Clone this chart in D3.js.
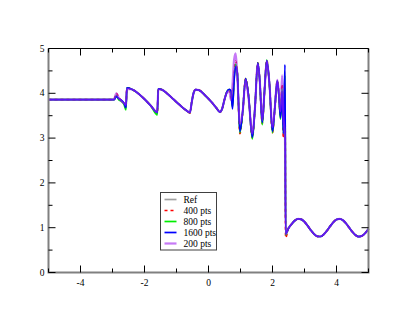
<!DOCTYPE html>
<html>
<head>
<meta charset="utf-8">
<script src="https://cdn.jsdelivr.net/npm/d3@7"></script>
<style>
	body { margin: 0; background: white; }
	text { font-family: "Liberation Serif", "DejaVu Serif", serif; }
</style>
</head>
<body>
<script>
// shared x grid for all series
var xs = [-5, -3.0, -2.95, -2.88, -2.8, -2.72, -2.64, -2.58, -2.55, -2.4, -2.2, -2.0, -1.8, -1.6,
	-1.57, -1.45, -1.3, -1.1, -0.9, -0.7, -0.58, -0.52, -0.46, -0.4, -0.3, -0.1, 0.1, 0.25, 0.36,
	0.42, 0.5, 0.58, 0.65, 0.7, 0.75, 0.8, 0.85, 0.9, 0.98, 1.07, 1.16, 1.25, 1.37,
	1.45, 1.54, 1.6, 1.68, 1.75, 1.82, 1.9, 2.0, 2.07, 2.15, 2.2, 2.25,
	2.3, 2.34, 2.39, 2.41,
	2.5, 2.6, 2.7, 2.8, 2.9, 3.0, 3.1, 3.2, 3.3, 3.4, 3.5, 3.6, 3.7, 3.8, 3.9,
	4.0, 4.1, 4.2, 4.3, 4.4, 4.5, 4.6, 4.7, 4.8, 4.9, 5.0]

// tail right of the shock (same for every series)
var tail = [0.987, 1.084, 1.161, 1.198, 1.187, 1.130, 1.041, 0.942, 0.858, 0.808, 0.804, 0.850, 0.932, 1.030, 1.121,
	1.183, 1.199, 1.167, 1.094, 0.998, 0.903, 0.831, 0.800, 0.819, 0.882, 0.974]

var yRef = [3.857, 3.857, 3.86, 3.92, 3.88, 3.84, 3.78, 3.72, 4.12, 4.09, 4.0, 3.87, 3.72, 3.57,
	4.1, 4.08, 4.0, 3.87, 3.74, 3.62, 3.57, 3.82, 4.02, 4.08, 4.07, 3.95, 3.8, 3.67, 3.58,
	3.64, 3.86, 4.04, 4.08, 4.05, 3.7, 4.3, 4.6, 4.45, 3.15, 3.6, 4.33, 3.95, 3.03,
	3.65, 4.68, 4.3, 3.35, 4.05, 4.73, 4.25, 3.15, 3.65, 4.28, 3.95, 3.45,
	4.1, 3.2, 4.5, 0.86].concat(tail)

var y400 = [3.857, 3.857, 3.87, 4.0, 3.9, 3.83, 3.77, 3.7, 4.12, 4.09, 4.0, 3.87, 3.72, 3.56,
	4.1, 4.08, 4.0, 3.87, 3.74, 3.62, 3.56, 3.82, 4.02, 4.08, 4.07, 3.95, 3.8, 3.67, 3.58,
	3.64, 3.86, 4.03, 4.06, 3.92, 3.8, 4.4, 4.72, 4.45, 3.1, 3.6, 4.33, 3.95, 3.0,
	3.65, 4.68, 4.3, 3.32, 4.05, 4.74, 4.25, 3.12, 3.65, 4.28, 3.95, 3.5,
	4.2, 3.0, 4.1, 0.78].concat(tail)

var y800 = [3.857, 3.857, 3.86, 3.95, 3.85, 3.82, 3.75, 3.63, 4.12, 4.09, 4.0, 3.87, 3.72, 3.52,
	4.1, 4.08, 4.0, 3.87, 3.74, 3.62, 3.57, 3.82, 4.02, 4.08, 4.07, 3.95, 3.8, 3.67, 3.58,
	3.64, 3.86, 4.04, 4.08, 4.0, 3.7, 4.35, 4.65, 4.45, 3.12, 3.6, 4.33, 3.95, 2.98,
	3.65, 4.68, 4.3, 3.3, 4.05, 4.74, 4.25, 3.12, 3.65, 4.28, 3.95, 3.42,
	4.1, 3.1, 4.4, 0.84].concat(tail)

var y1600 = [3.857, 3.857, 3.86, 3.93, 3.88, 3.84, 3.78, 3.68, 4.12, 4.09, 4.0, 3.87, 3.72, 3.57,
	4.1, 4.08, 4.0, 3.87, 3.74, 3.62, 3.57, 3.82, 4.02, 4.08, 4.07, 3.95, 3.8, 3.67, 3.58,
	3.64, 3.86, 4.04, 4.09, 4.06, 3.65, 4.3, 4.6, 4.45, 3.15, 3.6, 4.33, 3.95, 3.02,
	3.65, 4.68, 4.3, 3.35, 4.05, 4.73, 4.25, 3.15, 3.65, 4.28, 3.95, 3.45,
	4.05, 3.1, 4.64, 0.86].concat(tail)

var y200 = [3.857, 3.857, 3.87, 4.0, 3.9, 3.82, 3.78, 3.74, 4.1, 4.09, 4.0, 3.87, 3.72, 3.58,
	4.09, 4.08, 4.0, 3.87, 3.74, 3.62, 3.58, 3.82, 4.02, 4.08, 4.07, 3.95, 3.8, 3.67, 3.58,
	3.64, 3.86, 4.02, 4.05, 3.85, 4.2, 4.75, 4.89, 4.4, 3.32, 3.6, 4.3, 3.9, 3.1,
	3.65, 4.65, 4.3, 3.4, 4.05, 4.72, 4.25, 3.25, 3.65, 4.3, 4.0, 3.6,
	4.4, 3.5, 3.0, 0.86].concat(tail)

var labels = ['Ref', '400 pts', '800 pts', '1600 pts', '200 pts']
var colors = ['#a0a0a0', '#ff0000', '#00ee00', '#0000ff', '#a020f0']
var seriesY = [yRef, y400, y800, y1600, y200]

var xTicks = [-4, -2, 0, 2, 4]
var yTicks = [0, 1, 2, 3, 4, 5]

var width = 415,
	height = 321

var svg = d3.select('body').append('svg')
	.attr('width', width)
	.attr('height', height)

var x = d3.scaleLinear().domain([-5, 5]).range([48.5, 368.5])
var y = d3.scaleLinear().domain([0, 5]).range([272.5, 48.5])

var line = d3.line()
	.x(d => x(d[0]))
	.y(d => y(d[1]))
	.curve(d3.curveMonotoneX)

var plot = svg.append('g')

seriesY.forEach(function (ys, i) {
	plot.append('path')
		.datum(xs.map((v, j) => [v, ys[j]]))
		.attr('d', line)
		.attr('fill', 'none')
		.attr('stroke', colors[i])
		.attr('stroke-width', i == 4 ? 2.2 : 1.7)
		.attr('stroke-opacity', i == 4 ? 0.6 : 1)
		.attr('stroke-dasharray', i == 1 ? '3,3' : null)
		.attr('stroke-linejoin', 'round')
})

// frame
svg.append('line')
	.attr('x1', x(-5)).attr('x2', x(5))
	.attr('y1', y(5)).attr('y2', y(5))
	.attr('stroke', 'black').attr('stroke-width', 1)
svg.append('path')
	.attr('d', 'M' + x(-5) + ',' + y(5) + 'V' + y(0) + 'H' + x(5) + 'V' + y(5))
	.attr('fill', 'none')
	.attr('stroke', '#808080')
	.attr('stroke-width', 2)

// ticks, all pointing inward
var g = svg.append('g').attr('stroke', 'black').attr('stroke-width', 1)
d3.range(-5, 5.01, 1).forEach(function (v) {
	var len = (v % 2 == 0) ? 7 : 4
	g.append('line').attr('x1', x(v)).attr('x2', x(v)).attr('y1', y(0)).attr('y2', y(0) - len)
	g.append('line').attr('x1', x(v)).attr('x2', x(v)).attr('y1', y(5)).attr('y2', y(5) + len)
})
d3.range(0, 5.01, 0.5).forEach(function (v) {
	var len = (v % 1 == 0) ? 7 : 4
	g.append('line').attr('x1', x(-5)).attr('x2', x(-5) + len).attr('y1', y(v)).attr('y2', y(v))
	g.append('line').attr('x1', x(5)).attr('x2', x(5) - len).attr('y1', y(v)).attr('y2', y(v))
})

svg.selectAll('.xlab')
	.data(xTicks)
	.enter()
	.append('text')
		.attr('x', d => x(d))
		.attr('y', y(0) + 13)
		.attr('text-anchor', 'middle')
		.style('font-size', '9.5px')
		.text(d => d)

svg.selectAll('.ylab')
	.data(yTicks)
	.enter()
	.append('text')
		.attr('x', x(-5) - 4)
		.attr('y', d => y(d) + 3)
		.attr('text-anchor', 'end')
		.style('font-size', '9.5px')
		.text(d => d)

// LEGEND
var legend = svg.append('g').attr('transform', 'translate(160.5,192.5)')
legend.append('rect')
	.attr('width', 56)
	.attr('height', 57.5)
	.attr('fill', 'white')
	.attr('stroke', '#404040')
	.attr('stroke-width', 1)

labels.forEach(function (d, i) {
	var ly = 7 + i * 11
	legend.append('line')
		.attr('x1', 4).attr('x2', 16)
		.attr('y1', ly).attr('y2', ly)
		.attr('stroke', colors[i])
		.attr('stroke-width', i == 4 ? 2.2 : 1.7)
		.attr('stroke-opacity', i == 4 ? 0.6 : 1)
		.attr('stroke-dasharray', i == 1 ? '3,3' : null)
	legend.append('text')
		.attr('x', 23)
		.attr('y', ly + 3)
		.style('font-size', '9.5px')
		.text(d)
})
</script>
</body>
</html>
